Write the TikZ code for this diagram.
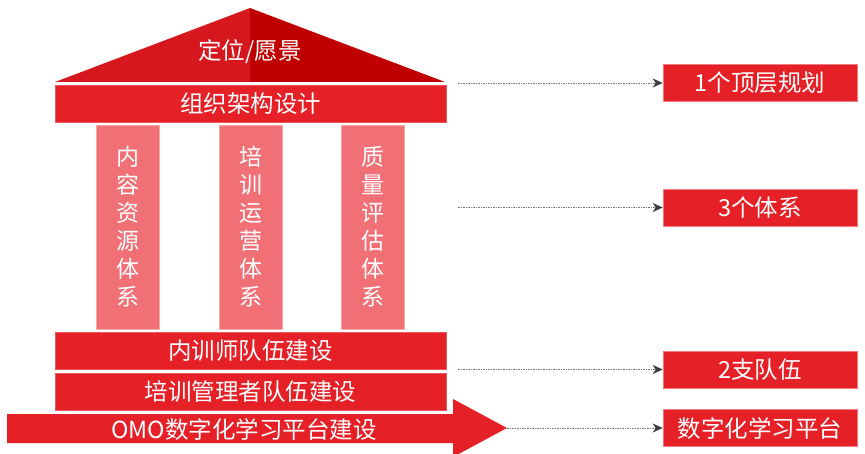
\documentclass[tikz,border=0pt]{standalone}
\usepackage{fontspec}
\setmainfont{Noto Sans CJK SC}
\usetikzlibrary{arrows.meta}

\definecolor{roofleft}{RGB}{214,24,30}
\definecolor{roofright}{RGB}{192,0,0}
\definecolor{barred}{RGB}{229,32,39}
\definecolor{pillarpink}{RGB}{240,112,118}
\definecolor{linkgray}{RGB}{60,60,60}

\tikzset{
    bar/.style={fill=barred, draw=barred!75!white, line width=0.6pt,
        minimum width=391, minimum height=37, inner sep=0pt, text=white,
        font=\fontsize{23.5}{26}\selectfont},
    pillar/.style={fill=pillarpink, draw=pillarpink!60!white, line width=0.6pt,
        minimum width=63, minimum height=204, inner sep=0pt, text=white,
        align=center, font=\fontsize{23}{28}\selectfont},
    tagbox/.style={fill=barred, draw=barred!60!white, line width=0.6pt,
        minimum width=194, minimum height=37, inner sep=0pt, text=white,
        font=\fontsize{23.5}{26}\selectfont},
    link/.style={linkgray!70, line width=0.9pt, dash pattern=on 1.5pt off 1pt,
        -{Stealth[length=10pt, width=9pt, inset=3pt, linkgray]}}
}

\begin{document}
\begin{tikzpicture}[x=1pt, y=-1pt]

    \useasboundingbox (0,0) rectangle (865,454);

    % Dach
    \fill[roofleft] (55,82) -- (250,8) -- (250,82) -- cycle;
    \fill[roofright] (250,8) -- (445,82) -- (250,82) -- cycle;
    \node[text=white, font=\fontsize{23.5}{26}\selectfont] (roof) at (250,52) {定位/愿景};

    % Balken oben
    \node[bar] (orga) at (250.5,103.5) {组织架构设计};

    % Saeulen
    \node[pillar] (content) at (127.5,227) {内\\容\\资\\源\\体\\系};
    \node[pillar] (operate) at (250.5,227) {培\\训\\运\\营\\体\\系};
    \node[pillar] (quality) at (372.5,227) {质\\量\\评\\估\\体\\系};

    % Sockel
    \node[bar] (trainers) at (250.5,350.5) {内训师队伍建设};
    \node[bar] (managers) at (250.5,391.5) {培训管理者队伍建设};

    % Pfeil OMO
    \fill[barred] (7,414) -- (453,414) -- (453,399) -- (507,428)
        -- (453,457) -- (453,443) -- (7,443) -- cycle;
    \node[text=white, font=\fontsize{23.5}{26}\selectfont] (omo) at (244,429) {OMO数字化学习平台建设};
    \coordinate (omotip) at (507,428);

    % Kaesten rechts
    \node[tagbox] (plan) at (760,83) {1个顶层规划};
    \node[tagbox] (systems) at (760,207.5) {3个体系};
    \node[tagbox] (teams) at (760,369.5) {2支队伍};
    \node[tagbox] (platform) at (760,428) {数字化学习平台};

    % Verbindungen
    \coordinate (fromplan) at (458,83);
    \coordinate (fromsystems) at (458,207.5);
    \coordinate (fromteams) at (458,369.5);
    \draw[link] (fromplan) -- (plan.west);
    \draw[link] (fromsystems) -- (systems.west);
    \draw[link] (fromteams) -- (teams.west);
    \draw[link] (omotip) -- (platform.west);

\end{tikzpicture}
\end{document}
